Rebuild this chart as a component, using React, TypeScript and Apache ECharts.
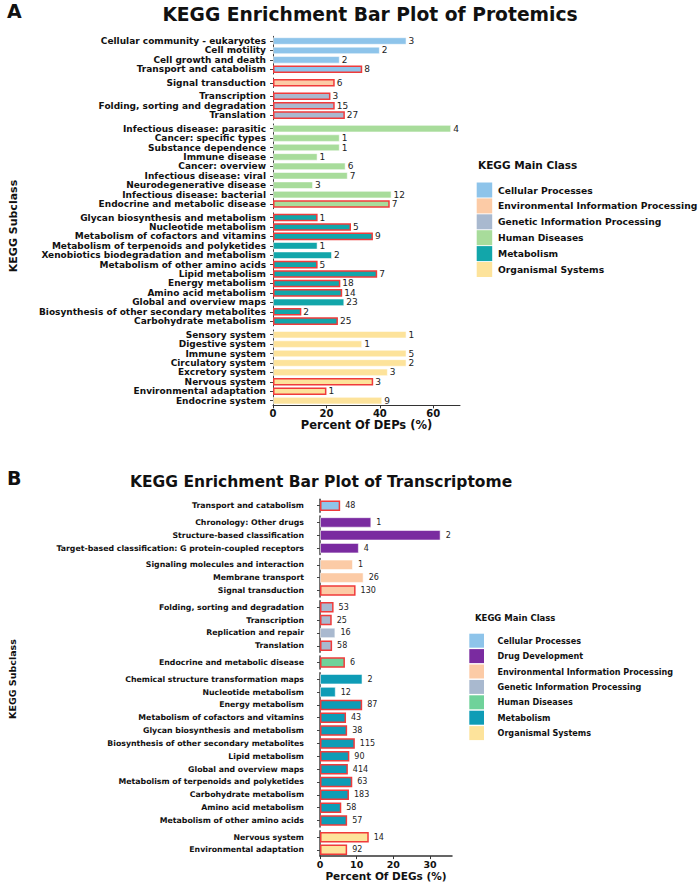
import React, { useEffect, useRef } from 'react';
import * as echarts from 'echarts';

// ---------- Panel A (proteomics) ----------
const classNamesA = ['Cellular Processes', 'Environmental Information Processing', 'Genetic Information Processing', 'Human Diseases', 'Metabolism', 'Organismal Systems'];
const classColorsA = ['#8EC4EA', '#FCCBA6', '#A9B9CF', '#A8DC9B', '#12A6AA', '#FDE39B'];
const subclassA = [
  'Cellular community - eukaryotes', 'Cell motility', 'Cell growth and death', 'Transport and catabolism',
  'Signal transduction',
  'Transcription', 'Folding, sorting and degradation', 'Translation',
  'Infectious disease: parasitic', 'Cancer: specific types', 'Substance dependence', 'Immune disease', 'Cancer: overview',
  'Infectious disease: viral', 'Neurodegenerative disease', 'Infectious disease: bacterial', 'Endocrine and metabolic disease',
  'Glycan biosynthesis and metabolism', 'Nucleotide metabolism', 'Metabolism of cofactors and vitamins',
  'Metabolism of terpenoids and polyketides', 'Xenobiotics biodegradation and metabolism', 'Metabolism of other amino acids',
  'Lipid metabolism', 'Energy metabolism', 'Amino acid metabolism', 'Global and overview maps',
  'Biosynthesis of other secondary metabolites', 'Carbohydrate metabolism',
  'Sensory system', 'Digestive system', 'Immune system', 'Circulatory system', 'Excretory system', 'Nervous system',
  'Environmental adaptation', 'Endocrine system',
];
const percentA = [
  50.0, 40.0, 25.0, 33.4,
  23.1,
  21.5, 23.1, 26.9,
  66.7, 25.0, 25.0, 16.7, 27.2, 28.0, 15.0, 44.4, 43.7,
  16.7, 29.2, 37.4, 16.7, 22.1, 16.7, 39.0, 25.2, 25.9, 26.7, 10.6, 24.3,
  50.0, 33.4, 50.0, 50.0, 43.0, 37.5, 20.0, 40.9,
];
const countA = [
  3, 2, 2, 8,
  6,
  3, 15, 27,
  4, 1, 1, 1, 6, 7, 3, 12, 7,
  1, 5, 9, 1, 2, 5, 7, 18, 14, 23, 2, 25,
  1, 1, 5, 2, 3, 3, 1, 9,
];
const classA = [
  0, 0, 0, 0,
  1,
  2, 2, 2,
  3, 3, 3, 3, 3, 3, 3, 3, 3,
  4, 4, 4, 4, 4, 4, 4, 4, 4, 4, 4, 4,
  5, 5, 5, 5, 5, 5, 5, 5,
];
const outlinedA = [
  0, 0, 0, 1,
  1,
  1, 1, 1,
  0, 0, 0, 0, 0, 0, 0, 0, 1,
  1, 1, 1, 0, 0, 1, 1, 1, 1, 0, 1, 1,
  0, 0, 0, 0, 0, 1, 1, 0,
];
const xTicksA = [0, 20, 40, 60];

// ---------- Panel B (transcriptome) ----------
const classNamesB = ['Cellular Processes', 'Drug Development', 'Environmental Information Processing', 'Genetic Information Processing', 'Human Diseases', 'Metabolism', 'Organismal Systems'];
const classColorsB = ['#8EC4EA', '#7A2BA0', '#FCCBA6', '#A9B9CF', '#6FD29A', '#0E9CB6', '#FDE39B'];
const subclassB = [
  'Transport and catabolism',
  'Chronology: Other drugs', 'Structure-based classification', 'Target-based classification: G protein-coupled receptors',
  'Signaling molecules and interaction', 'Membrane transport', 'Signal transduction',
  'Folding, sorting and degradation', 'Transcription', 'Replication and repair', 'Translation',
  'Endocrine and metabolic disease',
  'Chemical structure transformation maps', 'Nucleotide metabolism', 'Energy metabolism',
  'Metabolism of cofactors and vitamins', 'Glycan biosynthesis and metabolism', 'Biosynthesis of other secondary metabolites',
  'Lipid metabolism', 'Global and overview maps', 'Metabolism of terpenoids and polyketides', 'Carbohydrate metabolism',
  'Amino acid metabolism', 'Metabolism of other amino acids',
  'Nervous system', 'Environmental adaptation',
];
const percentB = [
  5.5,
  14.0, 32.9, 10.6,
  9.0, 11.9, 9.7,
  3.7, 3.2, 4.2, 3.3,
  6.8,
  11.6, 4.3, 11.5, 7.1, 7.4, 9.5, 8.0, 7.6, 8.8, 7.9, 5.8, 7.4,
  13.3, 7.4,
];
const countB = [
  48,
  1, 2, 4,
  1, 26, 130,
  53, 25, 16, 58,
  6,
  2, 12, 87, 43, 38, 115, 90, 414, 63, 183, 58, 57,
  14, 92,
];
const classB = [
  0,
  1, 1, 1,
  2, 2, 2,
  3, 3, 3, 3,
  4,
  5, 5, 5, 5, 5, 5, 5, 5, 5, 5, 5, 5,
  6, 6,
];
const outlinedB = [
  1,
  0, 0, 0,
  0, 0, 1,
  1, 1, 0, 1,
  1,
  0, 0, 1, 1, 1, 1, 1, 1, 1, 1, 1, 1,
  1, 1,
];
const xTicksB = [0, 10, 20, 30];

const FONT = 'DejaVu Sans';
const RED = '#F03B3B';

type PanelCfg = {
  labels: string[]; values: number[]; counts: number[]; cls: number[]; outlined: number[];
  colors: string[]; left: number; width: number; top: number; slot: number; gap: number;
  max: number; ticks: number[]; barWidth: number; labelSize: number; labelMargin: number;
  countSize: number; countDist: number; countWeight: string; axisName: string; axisNameSize: number;
  tickLabelSize: number; nameGap: number; axisLineWidth: number;
};

function buildPanel(c: PanelCfg, grids: any[], xAxes: any[], yAxes: any[], series: any[]) {
  const groups: number[][] = [];
  c.cls.forEach((k, i) => {
    if (i === 0 || c.cls[i - 1] !== k) groups.push([]);
    groups[groups.length - 1].push(i);
  });
  let top = c.top;
  groups.forEach((idx, gi) => {
    const last = gi === groups.length - 1;
    const h = idx.length * c.slot;
    const gIndex = grids.length;
    grids.push({ left: c.left, top, width: c.width, height: h, containLabel: false });
    xAxes.push({
      type: 'value', gridIndex: gIndex, min: 0, max: c.max, show: last,
      axisLine: { show: true, lineStyle: { color: '#333', width: c.axisLineWidth } },
      axisTick: { show: true, length: 3, customValues: c.ticks, lineStyle: { color: '#333' } },
      axisLabel: { customValues: c.ticks, fontFamily: FONT, fontWeight: 'bold', fontSize: c.tickLabelSize, color: '#111', margin: 3 },
      splitLine: { show: false },
      name: last ? c.axisName : '', nameLocation: 'middle', nameGap: c.nameGap,
      nameTextStyle: { fontFamily: FONT, fontWeight: 'bold', fontSize: c.axisNameSize, color: '#111' },
    });
    yAxes.push({
      type: 'category', gridIndex: gIndex, inverse: true,
      data: idx.map((i) => c.labels[i]),
      axisLine: { show: true, lineStyle: { color: '#444', width: c.axisLineWidth } },
      axisTick: { show: true, length: 3, alignWithLabel: true, lineStyle: { color: '#444' } },
      axisLabel: { fontFamily: FONT, fontWeight: 'bold', fontSize: c.labelSize, color: '#111', margin: c.labelMargin, interval: 0 },
    });
    const col = c.colors[c.cls[idx[0]]];
    series.push({
      type: 'bar', xAxisIndex: gIndex, yAxisIndex: gIndex, barWidth: c.barWidth,
      data: idx.map((i) => ({
        value: c.values[i],
        itemStyle: {
          color: col,
          borderColor: c.outlined[i] ? RED : 'rgba(255,255,255,0.55)',
          borderWidth: c.outlined[i] ? 1.5 : 1,
        },
      })),
      label: {
        show: true, position: 'right', distance: c.countDist,
        formatter: (p: any) => String(c.counts[idx[p.dataIndex]]),
        fontFamily: FONT, fontSize: c.countSize, color: '#222', fontWeight: c.countWeight,
      },
    });
    top += h + c.gap;
  });
}

function legend(names: string[], colors: string[], x: number, y0: number, step: number, w: number, h: number, tx: number, size: number) {
  const els: any[] = [];
  names.forEach((n, i) => {
    const cy = y0 + i * step;
    els.push({ type: 'rect', shape: { x, y: cy - h / 2, width: w, height: h }, style: { fill: colors[i] } });
    els.push({ type: 'text', x: tx, y: cy, style: { text: n, font: `bold ${size}px "${FONT}"`, fill: '#111', verticalAlign: 'middle', align: 'left' } });
  });
  return els;
}

export default function App() {
  const ref = useRef<HTMLDivElement>(null);
  useEffect(() => {
    if (!ref.current) return;
    const chart = echarts.init(ref.current, undefined, { renderer: 'svg' });
    const grids: any[] = [], xAxes: any[] = [], yAxes: any[] = [], series: any[] = [];
    buildPanel({
      labels: subclassA, values: percentA, counts: countA, cls: classA, outlined: outlinedA, colors: classColorsA,
      left: 273, width: 187, top: 36.3, slot: 9.42, gap: 4.1, max: 70, ticks: xTicksA, barWidth: 7.6,
      labelSize: 9, labelMargin: 7, countSize: 9, countDist: 2, countWeight: 'normal',
      axisName: 'Percent Of DEPs (%)', axisNameSize: 11.5, tickLabelSize: 10, nameGap: 13, axisLineWidth: 1,
    }, grids, xAxes, yAxes, series);
    buildPanel({
      labels: subclassB, values: percentB, counts: countB, cls: classB, outlined: outlinedB, colors: classColorsB,
      left: 320, width: 132, top: 499.3, slot: 12.85, gap: 3.85, max: 36, ticks: xTicksB, barWidth: 10.5,
      labelSize: 7.8, labelMargin: 16, countSize: 8, countDist: 5, countWeight: 'normal',
      axisName: 'Percent Of DEGs (%)', axisNameSize: 10.5, tickLabelSize: 9.5, nameGap: 12, axisLineWidth: 1.5,
    }, grids, xAxes, yAxes, series);

    const graphic: any[] = [
      { type: 'text', x: 7, y: 11, style: { text: 'A', font: `bold 19px "${FONT}"`, fill: '#111', verticalAlign: 'middle' } },
      { type: 'text', x: 370, y: 14, style: { text: 'KEGG Enrichment Bar Plot of Protemics', font: `bold 18.7px "${FONT}"`, fill: '#111', align: 'center', verticalAlign: 'middle' } },
      { type: 'text', x: 7, y: 478, style: { text: 'B', font: `bold 19px "${FONT}"`, fill: '#111', verticalAlign: 'middle' } },
      { type: 'text', x: 130, y: 482, style: { text: 'KEGG Enrichment Bar Plot of Transcriptome', font: `bold 15.5px "${FONT}"`, fill: '#111', align: 'left', verticalAlign: 'middle' } },
      { type: 'text', x: 13, y: 226, rotation: Math.PI / 2, style: { text: 'KEGG Subclass', font: `bold 11px "${FONT}"`, fill: '#111', align: 'center', verticalAlign: 'middle' } },
      { type: 'text', x: 12, y: 679, rotation: Math.PI / 2, style: { text: 'KEGG Subclass', font: `bold 9.5px "${FONT}"`, fill: '#111', align: 'center', verticalAlign: 'middle' } },
      { type: 'text', x: 478, y: 165, style: { text: 'KEGG Main Class', font: `bold 10.5px "${FONT}"`, fill: '#111', verticalAlign: 'middle' } },
      { type: 'text', x: 475, y: 618, style: { text: 'KEGG Main Class', font: `bold 8.5px "${FONT}"`, fill: '#111', verticalAlign: 'middle' } },
      ...legend(classNamesA, classColorsA, 476.7, 190, 15.9, 15.5, 15, 498, 9.2),
      ...legend(classNamesB, classColorsB, 469.3, 640.7, 15.4, 14.7, 14, 497.5, 8.1),
    ];

    chart.setOption({
      animation: false,
      backgroundColor: '#fff',
      grid: grids, xAxis: xAxes, yAxis: yAxes, series, graphic,
    });
    return () => chart.dispose();
  }, []);
  return <div ref={ref} style={{ position: 'absolute', left: 0, top: 0, width: 699, height: 882 }} />;
}
